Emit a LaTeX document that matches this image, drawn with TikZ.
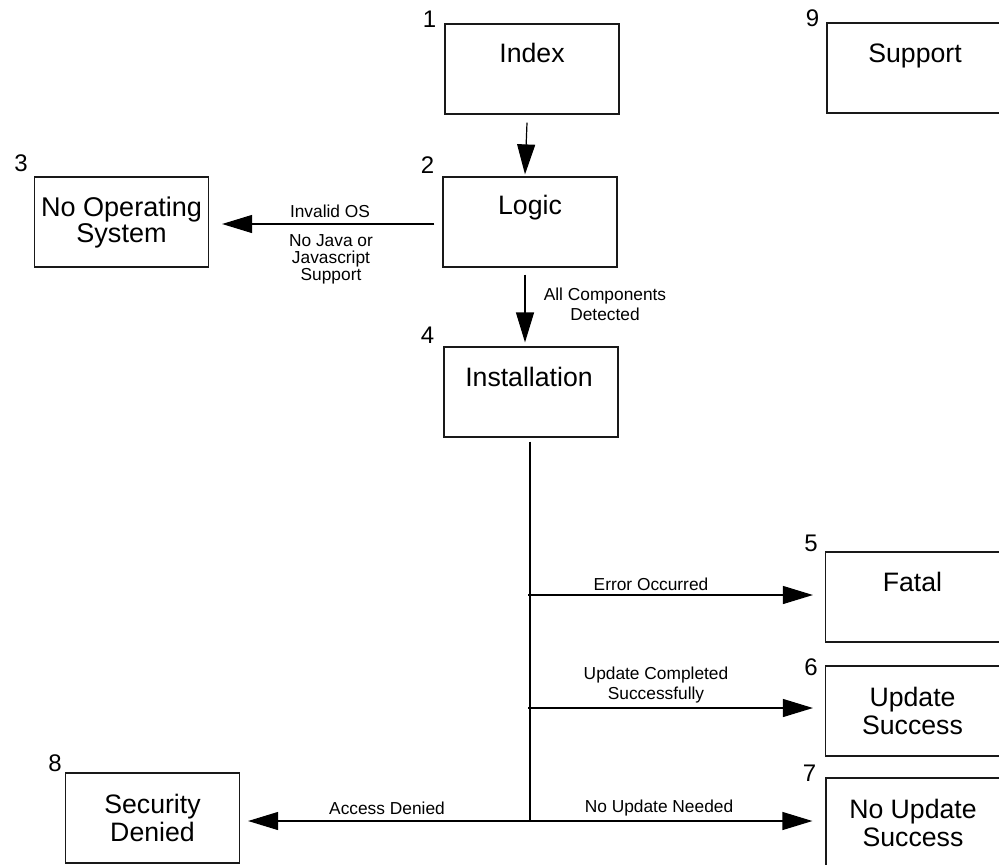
\documentclass[tikz,border=0pt]{standalone}
\usepackage{fontspec}
\setmainfont{Liberation Sans}
\usetikzlibrary{arrows.meta,calc}

\begin{document}
\begin{tikzpicture}[x=0.75pt,y=-0.75pt,
  box/.style={draw=black!90, line width=0.9pt, minimum width=130.5pt,
    minimum height=67.5pt, inner sep=0pt, align=center,
    font=\fontsize{20}{20.5}\selectfont},
  boxtitle/.style={anchor=base, inner sep=0pt, font=\fontsize{20}{20.5}\selectfont},
  num/.style={anchor=base east, inner sep=0pt, font=\fontsize{18}{18}\selectfont},
  lbl/.style={inner sep=0pt, align=center, font=\fontsize{13}{15}\selectfont},
  arr/.style={line width=0.9pt, -{Triangle[length=22.5pt,width=13.5pt]}},
  link/.style={line width=0.9pt}]

% page area
\fill[white] (0,0) rectangle (999,864);
\useasboundingbox (0,0) rectangle (999,864);

% state boxes
\node[box] (index)   at (532,69)    {};
\node[box] (support) at (914,68)    {};
\node[box] (logic)   at (530,222)   {};
\node[box, font=\fontsize{20.3}{19.5}\selectfont] (noos) at (121.5,222) {No Operating\\System};
\node[box] (install) at (531,392)   {};
\node[box] (fatal)   at (912.5,597) {};
\node[box] (updsucc) at (912.5,711) {Update\\Success};
\node[box] (noupd)   at (913,823)   {No Update\\Success};
\node[box] (secden)  at (152.5,818) {Security\\Denied};

% single-line titles
\node[boxtitle] (tindex)   at ($(index.north)+(0,39)$)   {Index};
\node[boxtitle] (tsupport) at ($(support.north)+(1,40)$) {Support};
\node[boxtitle] (tlogic)   at ($(logic.north)+(0,38)$)   {Logic};
\node[boxtitle] (tinstall) at ($(install.north)+(-2,40)$) {Installation};
\node[boxtitle] (tfatal)   at ($(fatal.north)+(0,40)$)   {Fatal};

% state numbers
\node[num] (n1) at ($(index.north west)+(-8,4)$)   {1};
\node[num] (n9) at ($(support.north west)+(-7,4)$) {9};
\node[num] (n2) at ($(logic.north west)+(-8,-3)$)  {2};
\node[num] (n3) at ($(noos.north west)+(-6,-5)$)   {3};
\node[num] (n4) at ($(install.north west)+(-9,-3)$) {4};
\node[num] (n5) at ($(fatal.north west)+(-7,0)$)   {5};
\node[num] (n6) at ($(updsucc.north west)+(-7,10)$) {6};
\node[num] (n7) at ($(noupd.north west)+(-9,4)$)   {7};
\node[num] (n8) at ($(secden.north west)+(-3,-1)$) {8};

% transitions
\draw[arr] ($(index.south)+(-5,8)$) -- ($(logic.north)+(-5,-2)$);
\draw[arr] ($(logic.west)+(-8,2)$) -- ($(noos.east)+(13,2)$);
\draw[arr] ($(logic.south)+(-5,7)$) -- ($(install.north)+(-6,-4)$);

\coordinate (jerr) at (530,595);
\coordinate (jupd) at (530,708);
\coordinate (jend) at (530,821);
\draw[link] ($(install.south)+(-1,4)$) -- (jend);
\draw[arr] ($(jerr)+(-2,0)$) -- ($(fatal.west)+(-12,-2)$);
\draw[arr] ($(jupd)+(-2,0)$) -- ($(updsucc.west)+(-12,-3)$);
\draw[arr] (jend) -- ($(noupd.west)+(-13,-2)$);
\draw[arr] (jend) -- ($(secden.east)+(8,3)$);

% transition labels
\node[lbl, anchor=base] (linv) at (330,217) {Invalid OS};
\node[lbl, anchor=north, font=\fontsize{13}{13}\selectfont] (ljava) at (331,234)
  {No Java or\\Javascript\\Support};
\node[lbl, anchor=north] (lall) at (605,288) {All Components\\Detected};
\node[lbl, anchor=base] (lerr) at (651,590) {Error Occurred};
\node[lbl, anchor=north] (lupd) at (656,667) {Update Completed\\Successfully};
\node[lbl, anchor=base] (lnoupd) at (659,812) {No Update Needed};
\node[lbl, anchor=base] (lacc) at (387,814) {Access Denied};
\end{tikzpicture}
\end{document}
